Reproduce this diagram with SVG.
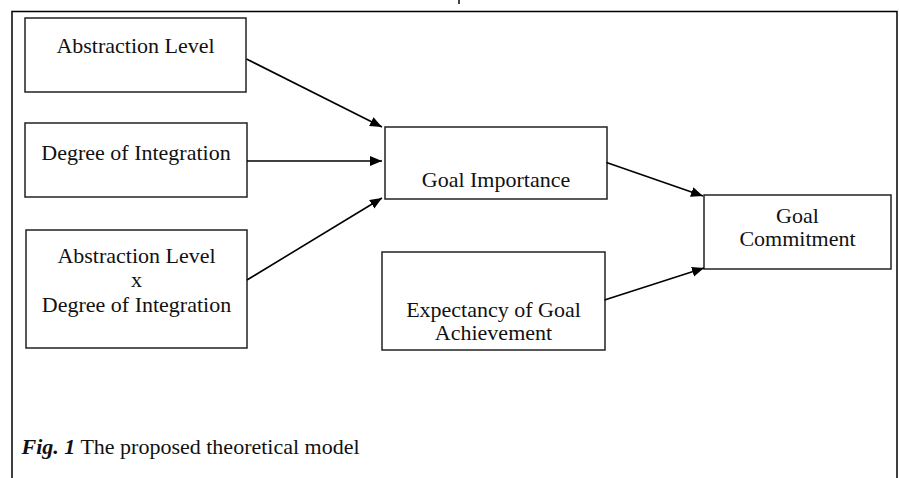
<svg xmlns="http://www.w3.org/2000/svg" width="899" height="478" viewBox="0 0 899 478">
<style>
.box{fill:#fff;stroke:#222;stroke-width:1.5}
.lbl{font-family:"Liberation Serif","Times New Roman",serif;font-size:22px;fill:#111;text-anchor:middle}
.cap{font-family:"Liberation Serif","Times New Roman",serif;font-size:22px;fill:#111}
.edge{stroke:#000;stroke-width:1.6;fill:none;marker-end:url(#ah)}
</style>
<defs>
<marker id="ah" markerUnits="userSpaceOnUse" markerWidth="13" markerHeight="11" refX="12" refY="5" orient="auto">
<path d="M0,0 L12,5 L0,10 z" fill="#000"/>
</marker>
</defs>
<rect width="899" height="478" fill="#fff"/>
<rect x="458" y="0" width="2" height="4" fill="#444"/>
<path d="M12,478 V11.5 H897 V478" fill="none" stroke="#000" stroke-width="1.5"/>

<g id="abstraction">
<rect class="box" x="25" y="18" width="221" height="74"/>
<text class="lbl" x="135.5" y="53">Abstraction Level</text>
</g>
<g id="integration">
<rect class="box" x="25" y="123" width="222" height="74"/>
<text class="lbl" x="136" y="160">Degree of Integration</text>
</g>
<g id="interaction">
<rect class="box" x="26" y="230" width="221" height="118"/>
<text class="lbl" x="136.5" y="263">Abstraction Level</text>
<text class="lbl" x="136.5" y="287">x</text>
<text class="lbl" x="136.5" y="312">Degree of Integration</text>
</g>
<g id="importance">
<rect class="box" x="385" y="127" width="222" height="72"/>
<text class="lbl" x="496" y="187">Goal Importance</text>
</g>
<g id="expectancy">
<rect class="box" x="382" y="252" width="223" height="98"/>
<text class="lbl" x="493.5" y="317">Expectancy of Goal</text>
<text class="lbl" x="493.5" y="340">Achievement</text>
</g>
<g id="commitment">
<rect class="box" x="704" y="195" width="187" height="74"/>
<text class="lbl" x="797.5" y="223">Goal</text>
<text class="lbl" x="797.5" y="246">Commitment</text>
</g>

<g id="connectors">
<line class="edge" x1="246.5" y1="59" x2="382" y2="127"/>
<line class="edge" x1="247" y1="161" x2="382" y2="161"/>
<line class="edge" x1="247" y1="280" x2="382" y2="198"/>
<line class="edge" x1="606.5" y1="162.5" x2="703" y2="196"/>
<line class="edge" x1="604.5" y1="300" x2="704" y2="268"/>
</g>

<text class="cap" x="21.5" y="454"><tspan font-weight="bold" font-style="italic">Fig. 1</tspan> The proposed theoretical model</text>
</svg>
